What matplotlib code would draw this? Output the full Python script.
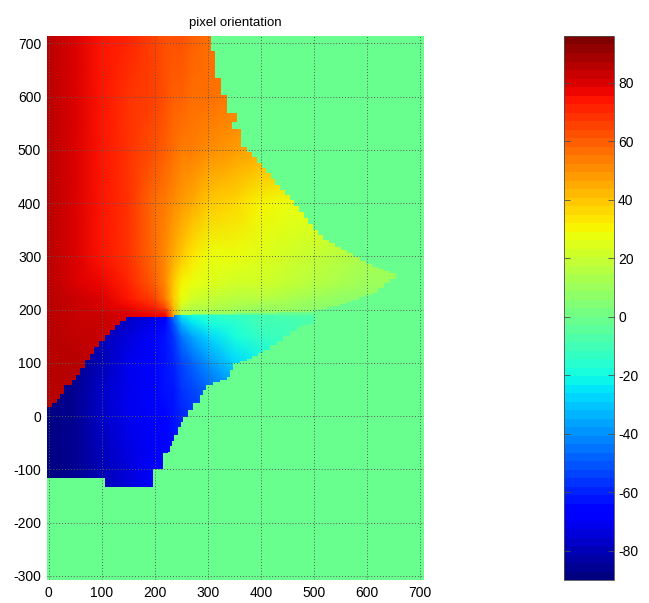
import numpy as np
import matplotlib
matplotlib.use("Agg")
import matplotlib.pyplot as plt
from matplotlib.colors import Normalize
from matplotlib.patches import Polygon
from matplotlib.cm import ScalarMappable

plt.rcParams['font.family'] = ['Liberation Sans', 'DejaVu Sans']
plt.rcParams['axes.unicode_minus'] = False

# colour limits of the orientation map (deg)
clim = (-90, 96)
bg_value = 0
cell = 11.5  # size of one image pixel in data units (stair steps)

x_nodes = [-5, 50, 100, 150, 200, 220, 235, 250, 270, 300, 350, 400, 450, 500, 550, 600, 650, 710]
y_upper = [0, 100, 190, 205, 220, 250, 300, 400, 500, 600, 714]
y_lower = [-140, -100, 0, 50, 100, 150, 175, 190]

# orientation above the singular line (red / yellow part), one row per y_upper
theta_upper = [
    [87, 86, 85, 84, 83, 82, 82, 81, 80, 78, 76, 74, 72, 70, 68, 66, 64, 62],
    [86, 85, 84, 82, 80, 79, 78, 76, 70, 60, 50, 40, 30, 20, 10, 8, 6, 5],
    [86, 84, 82, 80, 78, 76, 45, 14, 12, 10, 8, 7, 6, 5, 4, 4, 3, 3],
    [86, 83, 81, 78, 72, 62, 42, 22, 17, 15, 13, 11, 9, 8, 7, 6, 5, 4],
    [86, 82, 79, 75, 66, 54, 40, 28, 22, 19, 17, 15, 12, 10, 8, 7, 6, 5],
    [86, 81, 77, 70, 60, 50, 40, 31, 27, 25, 23, 21, 19, 16, 13, 10, 9, 8],
    [86, 80, 75, 68, 57, 50, 45, 40, 34, 29, 27, 25, 23, 20, 15, 12, 9, 8],
    [86, 80, 74, 67, 58, 54, 51, 48, 45, 40, 36, 32, 29, 27, 27, 27, 27, 27],
    [86, 80, 74, 68, 62, 59, 57, 55, 54, 52, 48, 45, 44, 44, 44, 44, 44, 44],
    [86, 80, 74, 69, 65, 62, 61, 60, 58, 56, 53, 52, 52, 52, 52, 52, 52, 52],
    [86, 80, 74, 70, 66, 64, 63, 62, 60, 58, 57, 57, 57, 57, 57, 57, 57, 57],
]

# orientation below the singular line (blue / cyan part), one row per y_lower
theta_lower = [
    [-88, -86, -81, -74, -69, -67, -66, -65, -64, -62, -60, -60, -60, -60, -60, -60, -60, -60],
    [-88, -85, -80, -73, -68, -66, -65, -63, -62, -60, -58, -56, -54, -52, -50, -50, -50, -50],
    [-89, -86, -78, -70, -67, -64, -62, -60, -58, -54, -50, -45, -40, -35, -30, -25, -20, -15],
    [-88, -85, -78, -71, -66, -63, -61, -58, -55, -48, -40, -34, -28, -23, -18, -14, -12, -10],
    [-88, -85, -79, -72, -66, -62, -59, -55, -48, -38, -28, -21, -16, -13, -11, -9, -7, -6],
    [-88, -86, -81, -75, -68, -62, -56, -46, -36, -28, -19, -13, -10, -8, -7, -6, -5, -4],
    [-88, -86, -82, -76, -70, -64, -50, -32, -24, -19, -15, -11, -9, -7, -6, -5, -4, -3],
    [-88, -86, -82, -77, -70, -66, -45, -25, -20, -17, -13, -10, -8, -6, -5, -4, -3, -3],
]

# outlines of the two regions (data units)
upper_outline = [
    (-5, 714), (305, 714), (305, 685), (313, 685), (313, 635), (324, 635),
    (324, 603), (335, 603), (335, 569), (354, 569), (354, 553), (345, 553),
    (345, 539), (363, 539), (363, 506), (373, 497), (392, 475), (410, 456),
    (435, 424), (454, 406), (498, 350), (517, 331), (561, 306), (598, 285),
    (642, 268), (655, 258), (620, 232), (560, 210), (500, 196), (235, 190),
    (235, 187), (156, 187), (134, 171), (116, 152), (94, 130), (78, 105),
    (59, 77), (43, 58), (28, 42), (15, 24), (-5, 11),
]
lower_outline = [
    (235, 187), (156, 187), (134, 171), (116, 152), (94, 130), (78, 105),
    (59, 77), (43, 58), (28, 42), (15, 24), (-5, 11), (-5, -117),
    (106, -117), (106, -134), (196, -134), (196, -100), (216, -100),
    (216, -70), (225, -67), (235, -36), (244, -20), (253, -1), (272, 24),
    (285, 40), (297, 58), (335, 74), (347, 99), (373, 108), (404, 124),
    (467, 168), (498, 176), (500, 190), (235, 190),
]

xticks = [0, 100, 200, 300, 400, 500, 600, 700]
yticks = [-300, -200, -100, 0, 100, 200, 300, 400, 500, 600, 700]
cbar_ticks = [-80, -60, -40, -20, 0, 20, 40, 60, 80]

xlim = (-4, 707)
ylim = (-308, 714)


def stairs(pts, step):
    # draw slanted edges as pixel steps, like the blocky source image
    out = []
    n = len(pts)
    for i in range(n):
        x0, y0 = pts[i]
        x1, y1 = pts[(i + 1) % n]
        out.append((x0, y0))
        if x0 == x1 or y0 == y1:
            continue
        k = max(1, int(round(max(abs(x1 - x0), abs(y1 - y0)) / step)))
        for j in range(1, k + 1):
            xb = x0 + (x1 - x0) * j / k
            ya = y0 + (y1 - y0) * (j - 1) / k
            yb = y0 + (y1 - y0) * j / k
            out.append((xb, ya))
            if j < k:
                out.append((xb, yb))
    return out


cmap = plt.get_cmap('jet', 64)
norm = Normalize(*clim)

fig = plt.figure(figsize=(6.49, 6.03), dpi=100)
ax = fig.add_axes([0.072, 0.0381, 0.5814, 0.9022])

# background = zero orientation everywhere
ax.pcolormesh([xlim[0], xlim[1]], [ylim[0], ylim[1]], [[bg_value]],
              cmap=cmap, norm=norm, zorder=0)

for ys, vals, outline in [(y_upper, theta_upper, upper_outline),
                          (y_lower, theta_lower, lower_outline)]:
    m = ax.pcolormesh(x_nodes, ys, np.array(vals, float), shading='gouraud',
                      cmap=cmap, norm=norm, zorder=1)
    clip = Polygon(stairs(outline, cell), closed=True, transform=ax.transData,
                   facecolor='none', edgecolor='none')
    ax.add_patch(clip)
    m.set_clip_path(clip)

ax.set_xlim(*xlim)
ax.set_ylim(*ylim)
ax.set_xticks(xticks)
ax.set_yticks(yticks)
ax.set_axisbelow(False)
ax.grid(True, linestyle=(0, (1, 2)), color='0.35', linewidth=0.7)
ax.tick_params(length=0, labelsize=10, pad=4)
for s in ax.spines.values():
    s.set_visible(False)
ax.set_title('pixel orientation', fontsize=9.5, pad=7)

cax = fig.add_axes([0.869, 0.0381, 0.077, 0.9022])
cb = fig.colorbar(ScalarMappable(norm=norm, cmap=cmap), cax=cax, ticks=cbar_ticks)
cb.outline.set_linewidth(0.6)
cb.outline.set_edgecolor('0.3')
cax.tick_params(direction='in', length=4, width=0.6, labelsize=10,
                left=True, right=True, color='0.3', pad=3)

fig.savefig('out.png', dpi=100)
